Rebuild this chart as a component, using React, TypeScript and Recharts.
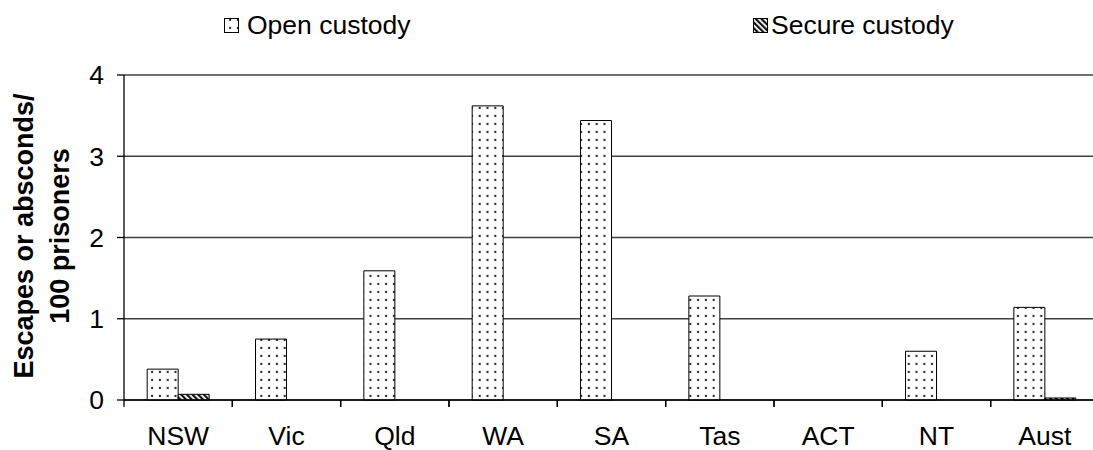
import { BarChart, Bar, XAxis, YAxis, CartesianGrid, Legend, Label } from 'recharts';

const states = ['NSW', 'Vic', 'Qld', 'WA', 'SA', 'Tas', 'ACT', 'NT', 'Aust'];
const openCustody = [0.38, 0.75, 1.59, 3.62, 3.44, 1.28, 0, 0.6, 1.14];
const secureCustody = [0.07, 0, 0, 0, 0, 0, 0, 0, 0.025];
const yTicks = [0, 1, 2, 3, 4];

const data = states.map((name, i) => ({
    name,
    open: openCustody[i],
    secure: secureCustody[i],
}));

const FONT = '"Liberation Sans", Arial, Helvetica, sans-serif';
const CHART_W = 1110;
const CHART_H = 450;
const TICK_SIZE = 7;
const TICK_MARGIN = 20;

// category labels plus a tick mark on the boundary between categories
function CategoryTick(props: any) {
    const { x, y, payload } = props;
    const half = payload && payload.offset ? payload.offset : (CHART_W - 124 - 11) / states.length / 2;
    const axisY = y - TICK_MARGIN - TICK_SIZE;
    return (
        <g>
            <line x1={x - half} y1={axisY} x2={x - half} y2={axisY + TICK_SIZE} stroke="#000" strokeWidth={1.3} />
            <line x1={x + half} y1={axisY} x2={x + half} y2={axisY + TICK_SIZE} stroke="#000" strokeWidth={1.3} />
            <text x={x} y={y + 18} textAnchor="middle" fill="#000" fontSize={26.5} fontFamily={FONT}>
                {payload.value}
            </text>
        </g>
    );
}

function YTitle() {
    return (
        <g fontFamily={FONT} fontSize={27} fontWeight="bold" fill="#000">
            <text transform="translate(33,236) rotate(-90)" textAnchor="middle">Escapes or absconds/</text>
            <text transform="translate(69,236) rotate(-90)" textAnchor="middle">100 prisoners</text>
        </g>
    );
}

function LegendContent() {
    return (
        <svg width={CHART_W} height={50} style={{ display: 'block' }}>
            <rect x={224.5} y={18.5} width={14} height={14} fill="url(#dots)" stroke="#000" strokeWidth={1} />
            <text x={247} y={34} fontSize={26.5} fontFamily={FONT} fill="#000">Open custody</text>
            <rect x={753.5} y={18.5} width={14} height={14} fill="url(#hatch)" stroke="#000" strokeWidth={1} />
            <text x={771} y={34} fontSize={26.5} fontFamily={FONT} fill="#000">Secure custody</text>
        </svg>
    );
}

export default function App() {
    return (
        <div style={{ position: 'absolute', left: 0, top: 0, width: 1093, height: 450, overflow: 'hidden', background: '#fff' }}>
            <BarChart
                width={CHART_W}
                height={CHART_H}
                data={data}
                margin={{ top: 75, right: 11, bottom: 0, left: 0 }}
                barCategoryGap="21.4%"
                barGap={0}
            >
                <defs>
                    <pattern id="dots" width={7.8} height={8} patternUnits="userSpaceOnUse">
                        <rect width={7.8} height={8} fill="#fff" />
                        <circle cx={3.9} cy={4} r={1.15} fill="#222" />
                    </pattern>
                    <pattern id="hatch" width={4} height={4} patternUnits="userSpaceOnUse" patternTransform="rotate(-45)">
                        <rect width={4} height={4} fill="#fff" />
                        <rect width={2.2} height={4} fill="#111" />
                    </pattern>
                </defs>
                <CartesianGrid vertical={false} stroke="#404040" strokeWidth={1.5} />
                <XAxis
                    dataKey="name"
                    height={50}
                    axisLine={{ stroke: '#000', strokeWidth: 1.3 }}
                    tickLine={false}
                    tickSize={TICK_SIZE}
                    tickMargin={TICK_MARGIN}
                    tick={<CategoryTick />}
                    interval={0}
                />
                <YAxis
                    width={124}
                    domain={[0, 4]}
                    ticks={yTicks}
                    interval={0}
                    axisLine={{ stroke: '#000', strokeWidth: 1.3 }}
                    tickLine={{ stroke: '#000', strokeWidth: 1.3 }}
                    tickSize={TICK_SIZE}
                    tickMargin={13}
                    tick={{ fill: '#000', fontSize: 26.5, fontFamily: FONT }}
                >
                    <Label content={<YTitle />} />
                </YAxis>
                <Legend
                    layout="horizontal"
                    verticalAlign="middle"
                    align="center"
                    wrapperStyle={{ top: 0, left: 0, width: CHART_W, height: 50 }}
                    content={<LegendContent />}
                />
                <Bar dataKey="open" name="Open custody" fill="url(#dots)" stroke="#000" strokeWidth={1} isAnimationActive={false} />
                <Bar dataKey="secure" name="Secure custody" fill="url(#hatch)" stroke="#000" strokeWidth={1} isAnimationActive={false} />
            </BarChart>
        </div>
    );
}
